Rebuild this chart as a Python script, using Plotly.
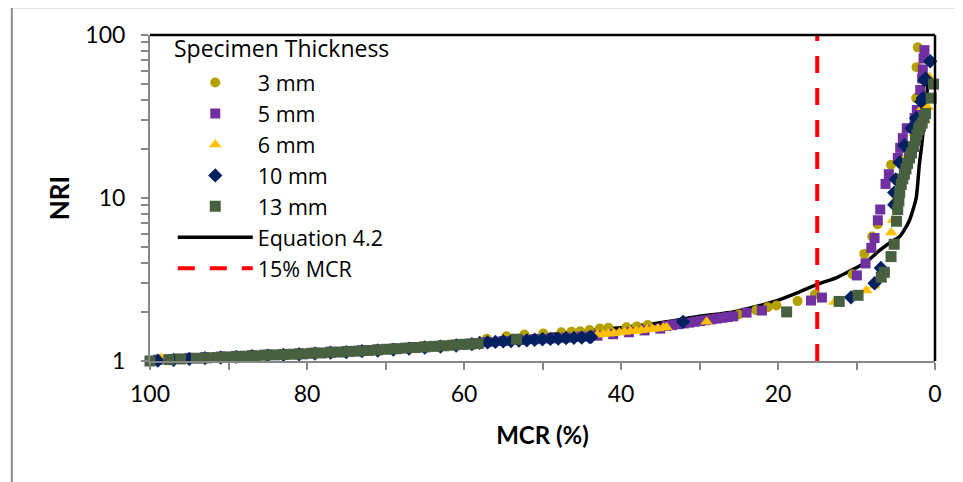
import plotly.graph_objects as go

# ---------------- data ----------------
mm3_mcr = [57.1, 54.6, 52.3, 49.9, 47.6, 46.3, 45.2, 44.0, 42.7, 41.6, 39.3, 38.0, 36.6,
           25.0, 22.8, 21.3, 20.2, 17.5, 15.3, 10.5, 9.0, 8.0, 7.3, 5.6, 2.4, 2.35, 2.2]
mm3_nri = [1.37, 1.42, 1.455, 1.475, 1.50, 1.51, 1.52, 1.55, 1.58, 1.60, 1.61, 1.63, 1.66,
           1.93, 2.05, 2.14, 2.19, 2.33, 2.56, 3.40, 4.54, 5.80, 6.90, 16.0, 41.0, 63.5, 84.0]

mm5_mcr = [99, 97, 95, 93, 91, 89, 87, 85, 83, 81, 79, 77, 75, 73, 71, 69, 67, 65, 63, 61,
           59, 57, 55, 53, 51, 49, 47, 45, 43, 41, 39, 37, 35,
           34.2, 33.5, 32.8, 32.0, 31.3, 30.6, 29.9, 29.2, 28.5, 27.8, 27.1, 26.4, 25.7,
           24.0, 22.05, 15.8, 14.4, 9.95, 8.85, 8.12, 7.7, 7.28, 6.98, 6.3, 5.88, 4.74,
           4.43, 4.1, 3.6, 2.6, 2.32, 1.88, 1.63, 1.55, 1.46, 1.34]
mm5_nri = [1.02, 1.03, 1.045, 1.055, 1.065, 1.075, 1.085, 1.095, 1.105, 1.115, 1.125, 1.14,
           1.15, 1.165, 1.175, 1.19, 1.205, 1.225, 1.24, 1.26,
           1.28, 1.305, 1.325, 1.345, 1.36, 1.375, 1.39, 1.41, 1.43, 1.46, 1.50, 1.54, 1.58,
           1.64, 1.66, 1.68, 1.70, 1.72, 1.74, 1.76, 1.78, 1.80, 1.82, 1.84, 1.86, 1.88,
           1.98, 2.04, 2.35, 2.45, 3.35, 3.97, 4.94, 5.68, 7.3, 8.5, 12.2, 14.0, 17.6,
           20.3, 23.3, 26.8, 30.9, 34.7, 46.0, 54.1, 61.5, 71.7, 80.7]

mm6_mcr = [98.6, 97, 95, 93, 91, 89, 87, 85, 83, 81, 79, 77, 75, 73, 71, 69, 67, 65, 63, 61,
           59, 57, 55, 53, 51, 49, 47, 45,
           43.8, 43.0, 42.3, 41.6, 40.9, 40.2, 39.5, 38.8, 38.1, 37.4, 36.7, 36.0, 35.3, 34.6, 34.2,
           29.1, 12.8, 8.76, 7.7, 5.58, 5.37, 5.03, 4.5, 3.6, 2.6, 1.6, 1.3, 0.92, 0.7]
mm6_nri = [1.04, 1.03, 1.04, 1.05, 1.06, 1.07, 1.08, 1.09, 1.10, 1.11, 1.12, 1.135, 1.145,
           1.16, 1.17, 1.185, 1.20, 1.22, 1.235, 1.255,
           1.275, 1.30, 1.32, 1.34, 1.355, 1.37, 1.385, 1.40,
           1.44, 1.45, 1.46, 1.47, 1.48, 1.495, 1.505, 1.52, 1.53, 1.545, 1.56, 1.57, 1.585, 1.60, 1.61,
           1.74, 2.30, 2.71, 2.90, 6.14, 7.3, 9.8, 12.5, 18.0, 25.0, 36.0, 30.0, 36.0, 55.0]

mm10_mcr = [99, 97, 95, 93, 91, 89, 87, 85, 83, 81, 79, 77, 75, 73, 71, 69, 67, 65, 63, 61, 59,
            58, 57, 56, 55, 54, 53, 52, 51, 50, 49, 48, 47, 46, 45, 44, 43.8,
            32.1, 10.7, 7.7, 6.9, 5.2, 5.2, 5.0, 4.5, 3.9, 3.0, 2.4, 1.76, 1.55, 1.34, 1.21, 0.61]
mm10_nri = [1.005, 1.015, 1.03, 1.04, 1.05, 1.06, 1.07, 1.08, 1.09, 1.10, 1.11, 1.125, 1.135,
            1.15, 1.16, 1.175, 1.19, 1.21, 1.225, 1.245, 1.27,
            1.29, 1.30, 1.31, 1.32, 1.325, 1.335, 1.34, 1.35, 1.36, 1.365, 1.37, 1.38, 1.385,
            1.39, 1.40, 1.405,
            1.74, 2.46, 3.00, 3.72, 9.1, 10.8, 13.0, 16.5, 21.0, 26.8, 30.9, 39.0, 41.0, 52.7, 54.0, 69.0]

mm13_mcr = [100, 97.6, 96.1, 94.1, 92.8, 91.5, 90.2, 89.0, 87.8, 86.6, 85.4, 84.2, 83.0, 81.8,
            80.6, 79.4, 78.2, 77.0, 75.8, 74.6, 73.4, 72.2, 71.0, 69.8, 68.6, 67.4, 66.2, 65.0,
            63.8, 62.6, 61.4, 60.2, 59.2, 58.2, 53.3,
            18.9, 12.2, 9.8, 6.85, 6.45, 5.6, 5.2, 4.9, 4.75, 4.6, 4.5, 4.3, 4.1, 3.9, 3.7, 3.5,
            3.25, 3.0, 2.75, 2.5, 2.3, 2.1, 1.85, 1.63, 1.4, 1.2, 0.49, 0.19]
mm13_nri = [1.00, 1.02, 1.03, 1.04, 1.045, 1.05, 1.06, 1.065, 1.07, 1.075, 1.085, 1.09, 1.095,
            1.10, 1.105, 1.115, 1.12, 1.13, 1.135, 1.145, 1.15, 1.16, 1.17, 1.18, 1.19, 1.20,
            1.21, 1.22, 1.23, 1.24, 1.25, 1.265, 1.27, 1.28, 1.36,
            2.00, 2.32, 2.53, 3.27, 3.50, 4.37, 5.2, 7.2, 8.5, 9.6, 10.8, 12.1, 13.1, 14.0, 15.1,
            16.3, 17.6, 18.9, 20.7, 22.5, 24.5, 26.2, 27.6, 28.8, 31.0, 33.0, 41.0, 50.0]

eq_mcr = [100, 90, 80, 70, 60, 50, 42.7, 38.5, 34.2, 30, 25.7, 20.7, 17.3, 15, 12.5, 10.9,
          8.8, 7.1, 5.8, 4.5, 3.3, 2.4, 2.0, 1.75, 1.5, 1.2, 1.0, 0.85]
eq_nri = [1.0, 1.06, 1.12, 1.2, 1.3, 1.44, 1.56, 1.63, 1.74, 1.88, 2.0, 2.3, 2.65, 2.95,
          3.25, 3.55, 4.03, 4.75, 5.3, 5.8, 7.2, 10.0, 16.0, 20.0, 26.0, 35.0, 45.0, 55.0]

mcr15_x = [15, 15]
mcr15_y = [1, 100]

x_ticks = [0, 20, 40, 60, 80, 100]
y_ticks = [1, 10, 100]
y_ticklabels = ["1", "10", "100"]
legend_title = "Specimen Thickness"

FONT = "Lato"
LEG_FONT = "Open Sans"
GRAY = "#868686"

fig = go.Figure()

# lines drawn first so that markers sit on top
fig.add_trace(go.Scatter(x=eq_mcr, y=eq_nri, mode="lines", name="Equation 4.2",
                         line=dict(color="black", width=3.5, shape="spline", smoothing=0.6),
                         legendrank=6, cliponaxis=False))
fig.add_trace(go.Scatter(x=mcr15_x, y=mcr15_y, mode="lines", name="15% MCR",
                         line=dict(color="#FF0000", width=4, dash="17px,15px"),
                         legendrank=7, cliponaxis=False))

series = [
    ("3 mm", mm3_mcr, mm3_nri, "circle", "#B4A000", 10),
    ("5 mm", mm5_mcr, mm5_nri, "square", "#7030A0", 10),
    ("6 mm", mm6_mcr, mm6_nri, "triangle-up", "#FFC000", 11),
    ("10 mm", mm10_mcr, mm10_nri, "diamond", "#002060", 11),
    ("13 mm", mm13_mcr, mm13_nri, "square", "#48603F", 11),
]
for i, (nm, xs, ys, sym, col, sz) in enumerate(series):
    fig.add_trace(go.Scatter(x=xs, y=ys, mode="markers", name=nm,
                             marker=dict(symbol=sym, color=col, size=sz, line=dict(width=0)),
                             legendrank=i + 1, cliponaxis=False))

fig.update_layout(
    width=955, height=474,
    margin=dict(l=142, r=28, t=25, b=121),
    plot_bgcolor="white", paper_bgcolor="white",
    font=dict(family=FONT, size=22, color="black"),
    showlegend=True,
    legend=dict(x=0.029, y=0.917, xanchor="left", yanchor="top",
                bgcolor="rgba(255,255,255,0)", font=dict(family=LEG_FONT, size=21.5),
                itemwidth=75, tracegroupgap=0, maxheight=400),
    annotations=[
        dict(text=legend_title, xref="paper", yref="paper", x=0.028, y=0.96,
             xanchor="left", yanchor="middle", showarrow=False,
             font=dict(family=LEG_FONT, size=23, color="black")),
    ],
    shapes=[
        dict(type="line", xref="paper", yref="paper", x0=0, x1=1, y0=1, y1=1,
             line=dict(color="black", width=2.5)),
        dict(type="line", xref="paper", yref="paper", x0=1, x1=1, y0=0, y1=1,
             line=dict(color="black", width=2.5)),
        dict(type="rect", xref="paper", yref="paper", x0=-0.176, x1=1.5, y0=-1, y1=1.085,
             line=dict(color="#8C8C8C", width=2), layer="below"),
    ],
)

fig.update_xaxes(range=[100, 0], tickvals=x_ticks, ticks="outside", ticklen=7,
                 tickcolor=GRAY, tickwidth=1.5, showline=True, linecolor=GRAY, linewidth=2,
                 showgrid=False, zeroline=False, tickfont=dict(size=23), ticklabelstandoff=4,
                 minor=dict(dtick=10, tick0=0, ticks="outside", ticklen=7, tickcolor=GRAY,
                            tickwidth=1.5, showgrid=False),
                 title=dict(text="<b>MCR (%)</b>", font=dict(size=24), standoff=22))
fig.update_yaxes(type="log", range=[0, 2], tickvals=y_ticks, ticktext=y_ticklabels,
                 ticks="outside", ticklen=7, tickcolor=GRAY, tickwidth=1.5,
                 showline=True, linecolor=GRAY, linewidth=2, showgrid=False, zeroline=False,
                 tickfont=dict(size=23), ticklabelstandoff=11,
                 minor=dict(ticks="outside", ticklen=7, tickcolor=GRAY, tickwidth=1.5,
                            dtick="D1", showgrid=False),
                 title=dict(text="<b>NRI</b>", font=dict(size=26), standoff=8))

fig.write_html("out.html")
